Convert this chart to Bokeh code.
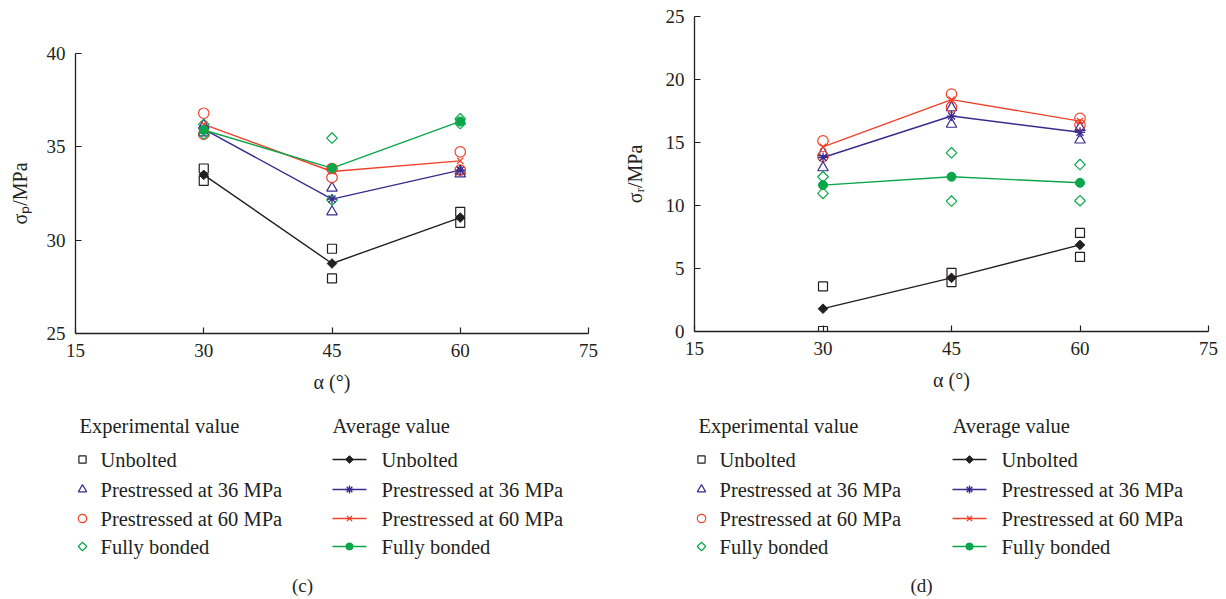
import numpy as np
from bokeh.plotting import figure
from bokeh.models import Range1d, FixedTicker
from bokeh.layouts import row, column
from bokeh.core.properties import value
from bokeh.embed import file_html
from bokeh.resources import INLINE

# ---------------- data ----------------
angles = [30, 45, 60]
exp_angles = [30, 30, 45, 45, 60, 60]
x_ticks = [15, 30, 45, 60, 75]

# panel (c): peak strength sigma_p (MPa)
c_y_ticks = [25, 30, 35, 40]
c_unb_exp = [33.84, 33.18, 29.54, 27.95, 31.52, 30.93]
c_p36_exp = [36.15, 35.75, 32.79, 31.52, 33.70, 33.55]
c_p60_exp = [36.80, 35.68, 33.84, 33.36, 34.73, 33.75]
c_fb_exp = [36.20, 35.68, 35.47, 32.15, 36.50, 36.25]
c_unb_avg = [33.50, 28.75, 31.21]
c_p36_avg = [35.95, 32.20, 33.75]
c_p60_avg = [36.20, 33.68, 34.25]
c_fb_avg = [35.90, 33.86, 36.36]

# panel (d): residual strength sigma_r (MPa)
d_y_ticks = [0, 5, 10, 15, 20, 25]
d_unb_exp = [3.58, 0.04, 4.66, 3.92, 7.82, 5.92]
d_p36_exp = [14.20, 13.00, 17.76, 16.45, 16.18, 15.20]
d_p60_exp = [15.13, 13.89, 18.84, 17.80, 16.92, 16.40]
d_fb_exp = [12.28, 10.96, 14.18, 10.35, 13.25, 10.38]
d_unb_avg = [1.81, 4.26, 6.87]
d_p36_avg = [13.81, 17.10, 15.81]
d_p60_avg = [14.65, 18.40, 16.70]
d_fb_avg = [11.62, 12.28, 11.80]

series_names = ["Unbolted", "Prestressed at 36 MPa", "Prestressed at 60 MPa", "Fully bonded"]

BLACK = "#231f20"
PURPLE = "#3a2b8f"
RED = "#ee4129"
GREEN = "#0aa64a"
colors = [BLACK, PURPLE, RED, GREEN]
FONT = "Liberation Serif"


def exp_marker(p, x, y, i, scale=1.0):
    c = colors[i]
    if i == 0:
        p.scatter(x, y, marker="square", size=9 * scale, fill_color=None, line_color=c, line_width=1.2)
    elif i == 1:
        p.scatter(x, y, marker="triangle", size=10.5 * scale, fill_color=None, line_color=c, line_width=1.2)
    elif i == 2:
        p.scatter(x, y, marker="circle", size=10.5 * scale, fill_color=None, line_color=c, line_width=1.2)
    else:
        p.scatter(x, y, marker="square", angle=np.pi / 4, size=7.5 * scale, fill_color=None, line_color=c, line_width=1.2)


def avg_marker(p, x, y, i, scale=1.0):
    c = colors[i]
    if i == 0:
        p.scatter(x, y, marker="square", angle=np.pi / 4, size=6.8 * scale, fill_color=c, line_color=c, line_width=1)
    elif i == 1:
        p.scatter(x, y, marker="asterisk", size=10 * scale, line_color=c, line_width=1.3)
    elif i == 2:
        p.scatter(x, y, marker="x", size=9 * scale, line_color=c, line_width=1.3)
    else:
        p.scatter(x, y, marker="circle", size=9 * scale, fill_color=c, line_color=c, line_width=1)


def make_panel(width, height, ymin, ymax, yticks, ylabel, exps, avgs, borders, ylab_standoff):
    bl, br, bt, bb = borders
    p = figure(width=width, height=height, x_range=Range1d(15, 75), y_range=Range1d(ymin, ymax),
               output_backend="svg", toolbar_location=None,
               min_border_left=bl, min_border_right=br, min_border_top=bt, min_border_bottom=bb)
    p.outline_line_color = None
    p.xgrid.visible = False
    p.ygrid.visible = False
    p.xaxis.ticker = FixedTicker(ticks=x_ticks)
    p.yaxis.ticker = FixedTicker(ticks=yticks)
    p.xaxis.axis_label = "α (°)"
    p.yaxis.axis_label = ylabel
    for ax in [p.xaxis[0], p.yaxis[0]]:
        ax.axis_line_color = BLACK
        ax.axis_line_width = 1.3
        ax.major_tick_line_color = BLACK
        ax.major_tick_line_width = 1.2
        ax.major_tick_in = 6
        ax.major_tick_out = 0
        ax.minor_tick_line_color = None
        ax.major_label_text_font = FONT
        ax.major_label_text_font_size = "19px"
        ax.major_label_text_color = BLACK
        ax.axis_label_text_font = FONT
        ax.axis_label_text_font_size = "20px"
        ax.axis_label_text_font_style = "normal"
        ax.axis_label_text_color = BLACK
    p.xaxis.major_label_standoff = 10
    p.xaxis.axis_label_standoff = 11
    p.yaxis.major_label_standoff = 10
    p.yaxis.axis_label_standoff = ylab_standoff
    for i in range(4):
        p.line(angles, avgs[i], line_color=colors[i], line_width=1.4)
    for i in range(4):
        exp_marker(p, exp_angles, exps[i], i)
    for i in range(4):
        avg_marker(p, angles, avgs[i], i)
    return p


def make_legend(width, height, x0, y0, bl, br, exp_x, avg_x, caption, cap_x):
    lg = figure(width=width, height=height,
                x_range=Range1d(x0 + bl, x0 + width - br), y_range=Range1d(y0 + height, y0),
                output_backend="svg", toolbar_location=None, x_axis_type=None, y_axis_type=None,
                min_border_left=bl, min_border_right=br, min_border_top=0, min_border_bottom=0)
    lg.outline_line_color = None
    lg.xgrid.visible = False
    lg.ygrid.visible = False
    rows_y = [459, 489, 518, 546]
    txt = dict(text_font=value(FONT), text_font_size="20.5px", text_baseline="middle",
               text_align="left", text_color=BLACK)
    lg.text(x=[exp_x - 3, avg_x], y=[425, 425], text=["Experimental value", "Average value"], **txt)
    for i in range(4):
        exp_marker(lg, [exp_x], [rows_y[i]], i, scale=0.8)
        lg.line([avg_x, avg_x + 34], [rows_y[i], rows_y[i]], line_color=colors[i], line_width=1.4)
        avg_marker(lg, [avg_x + 17], [rows_y[i]], i, scale=0.8)
    lg.text(x=[exp_x + 18] * 4, y=rows_y, text=series_names, **txt)
    lg.text(x=[avg_x + 49] * 4, y=rows_y, text=series_names, **txt)
    lg.text(x=[cap_x], y=[585], text=[caption], text_font=value(FONT), text_font_size="19px",
            text_baseline="middle", text_align="center", text_color=BLACK)
    return lg


pc = make_panel(618, 400, 25, 40, c_y_ticks, "σₚ/MPa",
                [c_unb_exp, c_p36_exp, c_p60_exp, c_fb_exp],
                [c_unb_avg, c_p36_avg, c_p60_avg, c_fb_avg],
                (75, 30, 53, 67), 13)
pd_ = make_panel(608, 400, 0, 25, d_y_ticks, "σᵣ/MPa",
                 [d_unb_exp, d_p36_exp, d_p60_exp, d_fb_exp],
                 [d_unb_avg, d_p36_avg, d_p60_avg, d_fb_avg],
                 (76, 18, 16, 69), 17)

lc = make_legend(618, 198, 0, 400, 75, 30, 82, 332, "(c)", 302)
ld = make_legend(608, 198, 618, 400, 76, 18, 701, 952, "(d)", 921)

layout = row(column(pc, lc), column(pd_, ld))
open("out.html", "w").write(file_html(layout, INLINE))
